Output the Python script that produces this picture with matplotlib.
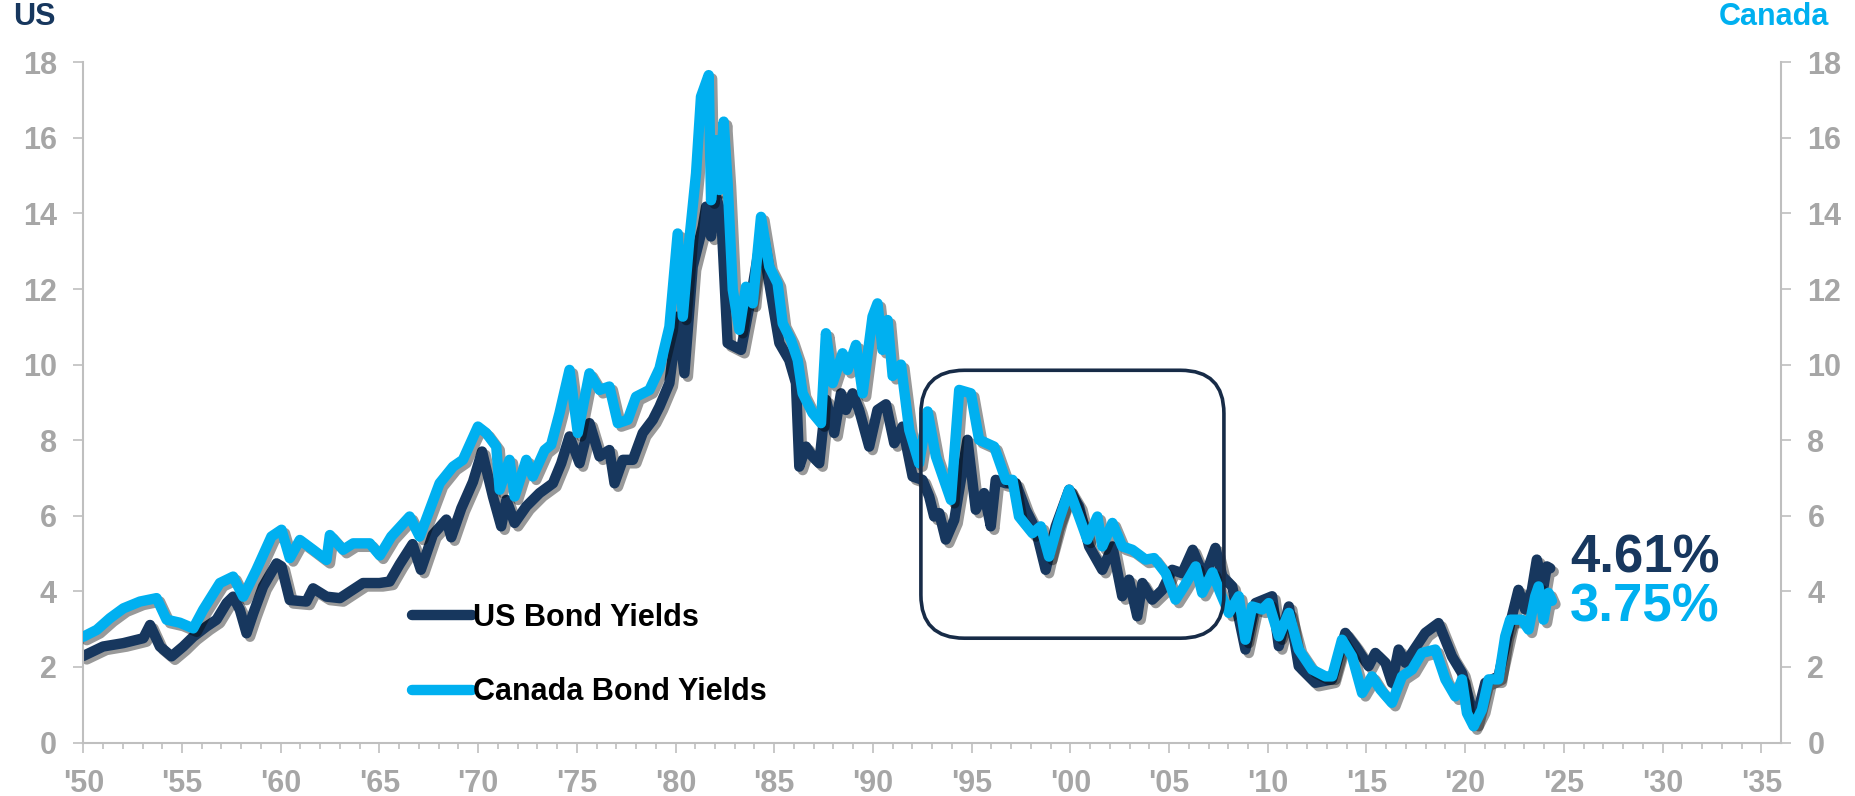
import numpy as np
import matplotlib
matplotlib.use('Agg')
import matplotlib.pyplot as plt
from matplotlib import patheffects as pe
from matplotlib.lines import Line2D
from matplotlib.patches import FancyBboxPatch

plt.rcParams['font.family'] = ['Liberation Sans', 'DejaVu Sans']
plt.rcParams['font.weight'] = 'bold'

# values (year, yield %)
us_years = [1950.0, 1951.0, 1952.03, 1953.04, 1953.38, 1953.88, 1954.47, 1955.06, 1955.57, 1956.24,
            1956.75, 1957.26, 1957.59, 1957.93, 1958.27, 1958.61, 1959.11, 1959.79, 1960.04, 1960.46,
            1961.3, 1961.64, 1962.32, 1963.0, 1964.17, 1965.0, 1965.52, 1966.03, 1966.68, 1967.1,
            1967.71, 1968.39, 1968.64, 1969.15, 1969.74, 1970.2, 1970.75, 1971.17, 1971.43, 1971.85,
            1972.44, 1973.11, 1973.79, 1974.21, 1974.63, 1975.14, 1975.64, 1976.15, 1976.65, 1976.91,
            1977.33, 1977.84, 1978.34, 1978.85, 1979.19, 1979.69, 1980.11, 1980.45, 1980.87, 1981.38,
            1981.55, 1981.8, 1982.05, 1982.31, 1982.64, 1983.32, 1983.74, 1984.33, 1984.75, 1985.26,
            1985.76, 1986.1, 1986.27, 1986.61, 1986.94, 1987.28, 1987.62, 1988.04, 1988.38, 1988.63,
            1988.97, 1989.3, 1989.81, 1990.23, 1990.66, 1991.08, 1991.5, 1992.01, 1992.51, 1992.85,
            1993.1, 1993.36, 1993.69, 1994.12, 1994.79, 1995.21, 1995.63, 1995.97, 1996.22, 1996.73,
            1997.24, 1997.74, 1998.25, 1998.75, 1999.26, 1999.94, 2000.44, 2000.95, 2001.62, 2002.13,
            2002.63, 2002.97, 2003.39, 2003.65, 2004.15, 2004.66, 2005.16, 2005.67, 2006.2, 2006.6,
            2006.9, 2007.35, 2007.7, 2008.2, 2008.87, 2009.38, 2010.22, 2010.56, 2011.07, 2011.57,
            2012.41, 2013.26, 2013.93, 2014.44, 2015.11, 2015.45, 2015.96, 2016.29, 2016.63, 2016.97,
            2017.98, 2018.65, 2019.33, 2019.84, 2020.34, 2020.51, 2021.02, 2021.69, 2022.37, 2022.7,
            2023.04, 2023.38, 2023.63, 2023.97, 2024.14, 2024.31]
us_vals = [2.29, 2.54, 2.63, 2.76, 3.11, 2.54, 2.28, 2.54, 2.80, 3.07,
           3.25, 3.69, 3.86, 3.51, 2.89, 3.42, 4.13, 4.74, 4.66, 3.77,
           3.73, 4.08, 3.86, 3.82, 4.22, 4.22, 4.26, 4.72, 5.25, 4.57,
           5.50, 5.90, 5.43, 6.20, 6.90, 7.70, 6.51, 5.72, 6.42, 5.81,
           6.25, 6.60, 6.86, 7.39, 8.10, 7.39, 8.45, 7.57, 7.74, 6.86,
           7.48, 7.48, 8.19, 8.54, 8.89, 9.51, 11.27, 9.77, 12.59, 13.65,
           14.18, 13.39, 14.44, 14.00, 10.57, 10.39, 11.54, 13.39, 12.15, 10.57,
           10.12, 9.51, 7.30, 7.83, 7.57, 7.39, 9.07, 8.19, 9.24, 8.80,
           9.24, 8.80, 7.83, 8.80, 8.95, 7.92, 8.36, 7.04, 6.95, 6.51,
           5.98, 6.07, 5.37, 5.89, 8.01, 6.16, 6.60, 5.72, 6.95, 6.86,
           6.86, 6.16, 5.63, 4.57, 5.72, 6.69, 6.25, 5.19, 4.57, 5.19,
           3.87, 4.31, 3.34, 4.22, 3.78, 4.04, 4.57, 4.48, 5.10, 4.60,
           4.50, 5.15, 4.40, 4.13, 2.46, 3.69, 3.87, 2.55, 3.60, 2.02,
           1.58, 1.67, 2.90, 2.55, 2.02, 2.37, 2.11, 1.58, 2.46, 2.11,
           2.90, 3.16, 2.28, 1.84, 0.87, 0.52, 1.58, 1.75, 3.34, 4.04,
           3.52, 4.04, 4.84, 4.13, 4.66, 4.61]

ca_years = [1950.0, 1950.68, 1951.35, 1952.03, 1952.87, 1953.71, 1954.22, 1954.89, 1955.57, 1956.07,
            1956.92, 1957.59, 1958.1, 1958.77, 1959.53, 1960.04, 1960.46, 1960.97, 1961.64, 1962.32,
            1962.49, 1963.16, 1963.67, 1964.51, 1965.02, 1965.6, 1966.53, 1967.04, 1968.05, 1968.73,
            1969.23, 1969.99, 1970.41, 1970.92, 1971.09, 1971.59, 1971.85, 1972.44, 1972.77, 1973.37,
            1973.7, 1974.12, 1974.63, 1975.05, 1975.64, 1976.15, 1976.65, 1977.08, 1977.58, 1978.0,
            1978.68, 1979.19, 1979.69, 1980.11, 1980.37, 1980.7, 1981.04, 1981.29, 1981.68, 1981.8,
            1982.05, 1982.22, 1982.44, 1982.64, 1982.9, 1983.23, 1983.57, 1983.91, 1984.33, 1984.75,
            1985.17, 1985.43, 1985.85, 1986.19, 1986.44, 1986.94, 1987.37, 1987.62, 1987.96, 1988.46,
            1988.72, 1989.14, 1989.48, 1989.98, 1990.23, 1990.49, 1990.74, 1991.0, 1991.42, 1991.84,
            1992.34, 1992.77, 1993.19, 1993.95, 1994.37, 1994.96, 1995.38, 1996.14, 1996.73, 1997.07,
            1997.4, 1998.08, 1998.5, 1998.92, 1999.43, 1999.94, 2000.44, 2000.86, 2001.37, 2001.62,
            2002.13, 2002.63, 2003.14, 2003.81, 2004.24, 2004.83, 2005.33, 2005.76, 2006.35, 2006.68,
            2007.2, 2007.6, 2008.03, 2008.53, 2008.87, 2009.21, 2009.72, 2010.05, 2010.56, 2011.07,
            2011.57, 2012.25, 2012.92, 2013.26, 2013.76, 2014.27, 2014.78, 2015.28, 2015.71, 2016.29,
            2016.8, 2017.31, 2017.81, 2018.49, 2019.0, 2019.5, 2019.84, 2020.09, 2020.43, 2020.85,
            2021.19, 2021.69, 2022.03, 2022.28, 2022.87, 2023.21, 2023.55, 2023.72, 2023.97, 2024.22,
            2024.4]
ca_vals = [2.80, 2.98, 3.29, 3.55, 3.73, 3.82, 3.25, 3.17, 3.02, 3.51,
           4.22, 4.39, 3.86, 4.57, 5.45, 5.63, 4.88, 5.36, 5.10, 4.83,
           5.49, 5.10, 5.27, 5.27, 4.95, 5.45, 5.98, 5.45, 6.86, 7.30,
           7.48, 8.36, 8.19, 7.83, 6.69, 7.48, 6.51, 7.48, 7.04, 7.74,
           7.88, 8.71, 9.86, 8.19, 9.77, 9.33, 9.42, 8.45, 8.54, 9.15,
           9.33, 9.90, 11.00, 13.47, 11.27, 13.30, 15.06, 17.09, 17.66, 14.35,
           15.94, 14.62, 16.43, 14.80, 11.98, 10.92, 12.06, 11.62, 13.91, 12.59,
           12.15, 11.09, 10.65, 10.12, 9.24, 8.72, 8.45, 10.83, 9.51, 10.30,
           9.86, 10.52, 9.24, 11.27, 11.62, 10.39, 11.18, 9.70, 10.00, 8.27,
           7.39, 8.76, 7.57, 6.42, 9.33, 9.24, 8.01, 7.83, 6.95, 6.95,
           5.98, 5.54, 5.72, 4.92, 5.89, 6.69, 5.98, 5.37, 5.98, 5.19,
           5.81, 5.19, 5.10, 4.84, 4.88, 4.48, 3.78, 4.13, 4.66, 3.96,
           4.50, 3.96, 3.43, 3.87, 2.72, 3.60, 3.52, 3.69, 2.81, 3.43,
           2.46, 1.93, 1.75, 1.75, 2.72, 2.28, 1.31, 1.75, 1.40, 1.05,
           1.75, 1.93, 2.37, 2.46, 1.67, 1.22, 1.67, 0.78, 0.43, 0.87,
           1.67, 1.67, 2.81, 3.25, 3.25, 2.99, 3.87, 4.13, 3.25, 3.96,
           3.75]

us_last = '4.61%'
ca_last = '3.75%'
tick_years = list(range(1950, 2036, 5))
tick_labels = ["'%02d" % (y % 100) for y in tick_years]

US_C = '#17375E'
CA_C = '#00B0F0'
GRAY = '#A6A6A6'
SPINE = '#BFBFBF'

fig = plt.figure(figsize=(18.56, 7.96), dpi=100)
ax = fig.add_axes([83.3 / 1856, (796 - 742.5) / 796, (1781 - 83.3) / 1856, (742.5 - 62.3) / 796])
ax2 = ax.twinx()

shadow = [pe.SimpleLineShadow(offset=(2.5, -2.5), shadow_color='black', alpha=0.4), pe.Normal()]
ax.plot(us_years, us_vals, color=US_C, lw=7.5, solid_joinstyle='round', solid_capstyle='round',
        path_effects=shadow)
ax2.plot(ca_years, ca_vals, color=CA_C, lw=7.5, solid_joinstyle='round', solid_capstyle='round',
         path_effects=shadow)

for a in (ax, ax2):
    a.set_xlim(1950, 2036)
    a.set_ylim(0, 18)
    a.set_yticks(range(0, 19, 2))
    a.spines['top'].set_visible(False)
    for s in a.spines.values():
        s.set_color(SPINE)
        s.set_linewidth(1.5)
    a.tick_params(axis='y', colors=SPINE, labelcolor=GRAY, labelsize=22, length=7, width=1.2, pad=12)

ax.spines['right'].set_visible(False)
ax2.spines['left'].set_visible(False)
ax2.spines['bottom'].set_visible(False)

ax.set_xticks(tick_years)
ax.set_xticklabels(tick_labels)
ax.set_xticks(range(1950, 2036), minor=True)
ax.tick_params(axis='x', which='major', colors=SPINE, labelcolor=GRAY, labelsize=22, length=7, width=1.2, pad=12)
ax.tick_params(axis='x', which='minor', colors=SPINE, length=4.5, width=1.2)
for lbl in ax.get_xticklabels() + ax.get_yticklabels() + ax2.get_yticklabels():
    lbl.set_fontweight('bold')

# highlight box around 1992-2007
box = FancyBboxPatch((1992.43, 2.76), 2007.78 - 1992.43, 9.85 - 2.76,
                     boxstyle='round,pad=0,rounding_size=2.2', mutation_aspect=0.52,
                     fill=False, edgecolor='#172B47', lw=2.6, zorder=5)
ax2.add_patch(box)

ax2.text(2025.3, 4.88, us_last, color=US_C, fontsize=38, fontweight='bold', ha='left', va='center')
ax2.text(2025.3, 3.56, ca_last, color=CA_C, fontsize=38, fontweight='bold', ha='left', va='center')

fig.text(13 / 1856, 1 - 17 / 796, 'US', color=US_C, fontsize=22, fontweight='bold', ha='left', va='center')
fig.text(1829 / 1856, 1 - 17 / 796, 'Canada', color=CA_C, fontsize=22, fontweight='bold', ha='right', va='center')

handles = [Line2D([], [], color=US_C, lw=7.5, solid_capstyle='round'),
           Line2D([], [], color=CA_C, lw=7.5, solid_capstyle='round')]
leg = ax2.legend(handles, ['US Bond Yields', 'Canada Bond Yields'], loc='upper left',
                 bbox_to_anchor=(412 / 1856, 1 - 603 / 796), bbox_transform=fig.transFigure,
                 frameon=False, fontsize=22, handlelength=1.95, handletextpad=0.05,
                 labelspacing=1.45, borderpad=0, borderaxespad=0)
for t in leg.get_texts():
    t.set_fontweight('bold')
    t.set_color('black')

fig.savefig('out.png', dpi=100, facecolor='white')
